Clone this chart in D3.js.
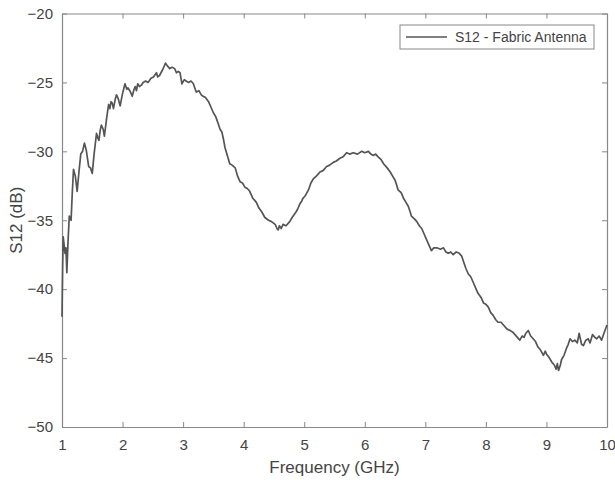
<!DOCTYPE html>
<html>
<head>
<meta charset="utf-8">
<script src="https://cdnjs.cloudflare.com/ajax/libs/d3/7.8.5/d3.min.js"></script>
<style>
  body { margin: 0; background: #fff; }
  text { font-family: "Liberation Sans", Arial, sans-serif; fill: #444; }
</style>
</head>
<body>
<div id="chart"></div>
<script>
// data
const freq = [
  1.00, 1.01, 1.02, 1.035, 1.05, 1.065, 1.08, 1.10, 1.12, 1.135, 1.15, 1.17, 1.19, 1.22, 1.25, 1.28,
  1.31, 1.34, 1.37, 1.40, 1.44, 1.47, 1.50, 1.53, 1.57, 1.59, 1.61, 1.63, 1.65, 1.68, 1.70, 1.74,
  1.77, 1.79, 1.81, 1.83, 1.85, 1.88, 1.90, 1.93, 1.96, 2.00, 2.04, 2.07, 2.09, 2.12, 2.16, 2.19,
  2.21, 2.23, 2.25, 2.28, 2.31, 2.34, 2.38, 2.42, 2.47, 2.51, 2.56, 2.58, 2.61, 2.66, 2.71, 2.74,
  2.78, 2.82, 2.86, 2.89, 2.92, 2.95, 2.98, 3.02, 3.05, 3.09, 3.13, 3.17, 3.20, 3.22, 3.26, 3.30,
  3.33, 3.37, 3.42, 3.46, 3.50, 3.54, 3.58, 3.61, 3.64, 3.67, 3.69, 3.73, 3.77, 3.81, 3.86, 3.90,
  3.94, 3.98, 4.02, 4.06, 4.10, 4.15, 4.21, 4.25, 4.30, 4.35, 4.41, 4.46, 4.52, 4.55, 4.57, 4.59,
  4.62, 4.65, 4.70, 4.76, 4.80, 4.85, 4.89, 4.93, 4.96, 4.98, 5.02, 5.07, 5.11, 5.15, 5.20, 5.26,
  5.31, 5.37, 5.42, 5.48, 5.53, 5.59, 5.64, 5.70, 5.75, 5.81, 5.88, 5.95, 6.00, 6.06, 6.10, 6.14,
  6.18, 6.22, 6.27, 6.31, 6.37, 6.42, 6.46, 6.50, 6.53, 6.55, 6.60, 6.64, 6.68, 6.72, 6.75, 6.77,
  6.82, 6.86, 6.90, 6.94, 6.98, 7.02, 7.06, 7.10, 7.14, 7.19, 7.25, 7.30, 7.34, 7.38, 7.42, 7.46,
  7.51, 7.56, 7.60, 7.63, 7.67, 7.71, 7.75, 7.79, 7.83, 7.87, 7.92, 7.96, 8.00, 8.04, 8.08, 8.12,
  8.16, 8.20, 8.25, 8.29, 8.35, 8.40, 8.44, 8.48, 8.52, 8.56, 8.60, 8.63, 8.66, 8.70, 8.74, 8.78,
  8.82, 8.86, 8.90, 8.95, 8.98, 9.00, 9.05, 9.09, 9.13, 9.16, 9.18, 9.20, 9.23, 9.25, 9.29, 9.33,
  9.36, 9.39, 9.43, 9.47, 9.51, 9.54, 9.58, 9.61, 9.65, 9.69, 9.72, 9.76, 9.80, 9.83, 9.87, 9.91,
  9.95, 10.00
];
const s12 = [
  -42.0, -38.5, -36.2, -36.8, -37.4, -37.0, -38.8, -36.5, -34.7, -34.9, -35.0, -33.0, -31.3, -31.8, -32.9, -31.5,
  -30.2, -30.0, -29.4, -29.9, -31.1, -31.2, -31.6, -30.2, -28.7, -29.0, -29.2, -28.5, -28.1, -28.4, -28.9, -27.5,
  -26.6, -26.9, -26.4, -26.5, -26.9, -26.2, -25.9, -26.2, -26.7, -25.8, -25.1, -25.5, -25.4, -25.6, -26.0, -25.5,
  -25.3, -25.6, -25.1, -25.3, -25.2, -25.0, -24.9, -25.0, -24.7, -24.6, -24.3, -24.6, -24.5, -24.1, -23.6, -23.8,
  -24.0, -23.9, -24.0, -24.3, -24.2, -24.3, -25.1, -24.8, -24.9, -25.0, -24.9, -25.1, -25.5, -25.7, -25.6, -25.9,
  -26.0, -26.1, -26.4, -26.8, -27.2, -27.5, -28.0, -28.4, -28.6, -29.2, -29.7, -30.3, -30.9, -31.0, -31.2, -31.8,
  -32.2, -32.3, -32.6, -32.7, -32.9, -33.4, -33.7, -34.1, -34.4, -34.8, -35.0, -35.1, -35.3, -35.6, -35.7, -35.4,
  -35.6, -35.3, -35.4, -35.1, -34.8, -34.5, -34.2, -33.8, -33.6, -33.4, -33.2, -32.8, -32.3, -32.0, -31.8, -31.5,
  -31.4, -31.1, -31.0, -30.8, -30.7, -30.5, -30.4, -30.1, -30.2, -30.1, -30.2, -30.0, -30.1, -30.0, -30.2, -30.3,
  -30.2, -30.4, -30.6, -30.9, -31.2, -31.5, -31.8, -32.1, -32.5, -32.8, -33.0, -33.4, -33.7, -34.0, -34.4, -34.7,
  -34.9, -35.1, -35.4, -35.6, -36.0, -36.4, -36.8, -37.2, -37.0, -37.0, -37.1, -37.0, -37.3, -37.4, -37.3, -37.5,
  -37.3, -37.4, -37.6, -38.0, -38.5, -38.9, -39.1, -39.5, -39.9, -40.3, -40.6, -41.0, -41.1, -41.3, -41.7, -41.9,
  -42.2, -42.4, -42.4, -42.6, -42.9, -43.0, -43.1, -43.3, -43.5, -43.7, -43.4, -43.5, -43.2, -43.0, -43.4, -43.6,
  -43.8, -44.2, -44.4, -44.8, -44.5, -44.7, -45.0, -45.3, -45.5, -45.8, -45.4, -45.9, -45.5, -45.1, -44.8, -44.3,
  -44.0, -43.6, -43.8, -43.7, -43.9, -43.2, -44.0, -44.1, -43.7, -43.6, -43.9, -43.3, -43.5, -43.6, -43.4, -43.7,
  -43.2, -42.6
];
const xTicks = [1, 2, 3, 4, 5, 6, 7, 8, 9, 10];
const yTicks = [-50, -45, -40, -35, -30, -25, -20];
const seriesName = 'S12 - Fabric Antenna';

const width = 615;
const height = 480;
const margin = { top: 13.5, right: 8, bottom: 53, left: 62 };

const svg = d3.select('#chart')
  .append('svg')
  .attr('width', width)
  .attr('height', height);

const x = d3.scaleLinear()
  .domain([1, 10])
  .range([margin.left, width - margin.right]);

const y = d3.scaleLinear()
  .domain([-50, -20])
  .range([height - margin.bottom, margin.top]);

const axisColor = '#888';
const tickLen = 5;

// axes (ticks point inward, mirrored on top/right)
const styleAxis = g => {
  g.select('.domain').attr('stroke', axisColor).attr('stroke-width', 1.2);
  g.selectAll('.tick line').attr('stroke', axisColor);
  g.selectAll('.tick text')
    .style('font-family', '"Liberation Sans", Arial, sans-serif')
    .style('font-size', '15px')
    .attr('fill', '#444');
};

svg.append('g')
  .attr('transform', `translate(0,${y(-50)})`)
  .call(d3.axisBottom(x).tickValues(xTicks).tickSizeInner(-tickLen).tickSizeOuter(0).tickPadding(12))
  .call(styleAxis);

svg.append('g')
  .attr('transform', `translate(0,${y(-20)})`)
  .call(d3.axisTop(x).tickValues(xTicks).tickSizeInner(-tickLen).tickSizeOuter(0).tickFormat(''))
  .call(styleAxis);

svg.append('g')
  .attr('transform', `translate(${x(1)},0)`)
  .call(d3.axisLeft(y).tickValues(yTicks).tickSizeInner(-tickLen).tickSizeOuter(0).tickPadding(9).tickFormat(d3.format('d')))
  .call(styleAxis);

svg.append('g')
  .attr('transform', `translate(${x(10)},0)`)
  .call(d3.axisRight(y).tickValues(yTicks).tickSizeInner(-tickLen).tickSizeOuter(0).tickFormat(''))
  .call(styleAxis);

// axis titles
svg.append('text')
  .attr('x', (x(1) + x(10)) / 2)
  .attr('y', 473)
  .style('text-anchor', 'middle')
  .style('font-size', '17px')
  .text('Frequency (GHz)');

svg.append('text')
  .attr('transform', 'rotate(-90)')
  .attr('x', -(y(-20) + y(-50)) / 2)
  .attr('y', 16)
  .attr('dy', '0.35em')
  .style('text-anchor', 'middle')
  .style('font-size', '17px')
  .text('S12 (dB)');

// the trace
const data = freq.map((f, i) => ({ f: f, v: s12[i] }));

svg.append('path')
  .datum(data)
  .attr('fill', 'none')
  .attr('stroke', '#555')
  .attr('stroke-width', 1.7)
  .attr('stroke-linejoin', 'round')
  .attr('d', d3.line().x(d => x(d.f)).y(d => y(d.v)));

// legend
const legend = svg.append('g').attr('transform', 'translate(400,25)');
legend.append('rect')
  .attr('width', 194)
  .attr('height', 24)
  .attr('fill', '#fff')
  .attr('stroke', axisColor);
legend.append('line')
  .attr('x1', 6).attr('x2', 47)
  .attr('y1', 12).attr('y2', 12)
  .attr('stroke', '#555')
  .attr('stroke-width', 1.4);
legend.append('text')
  .attr('x', 55)
  .attr('y', 12)
  .attr('dy', '0.35em')
  .style('font-size', '14px')
  .text(seriesName);
</script>
</body>
</html>
